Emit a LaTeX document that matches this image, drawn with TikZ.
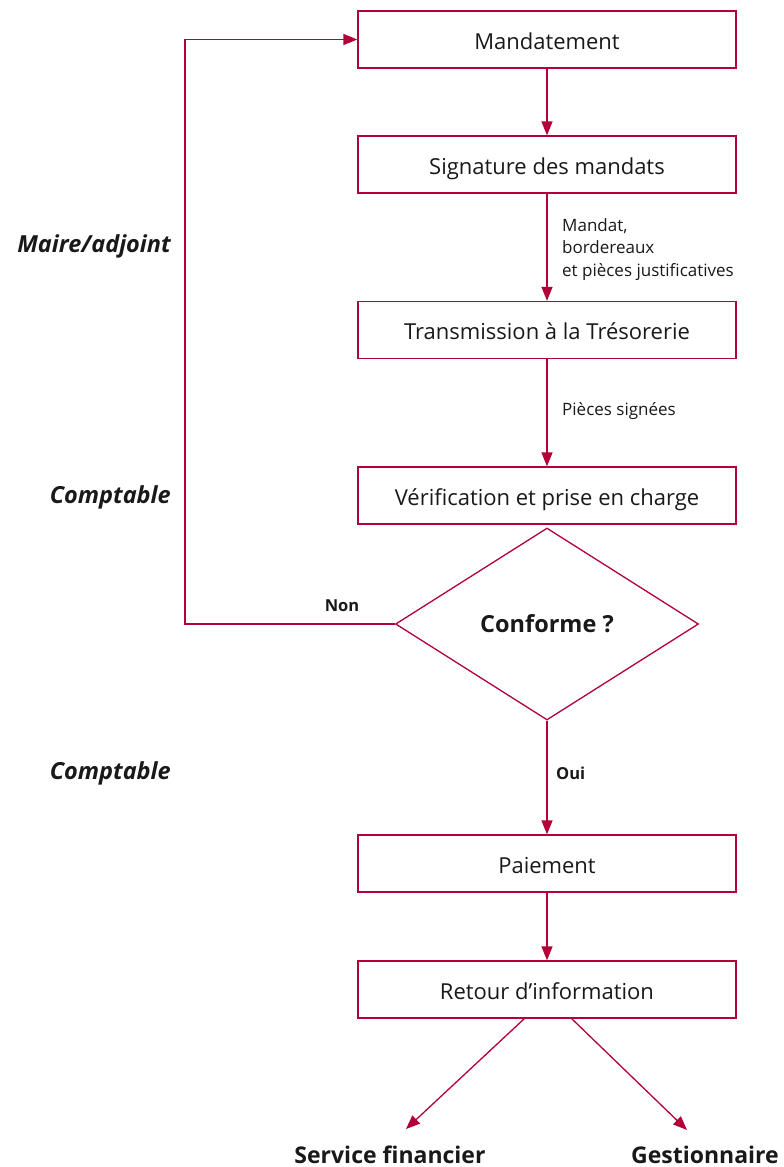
\documentclass[tikz,border=0pt]{standalone}
\usepackage{fontspec}
\setmainfont{Open Sans}
\usetikzlibrary{shapes.geometric,arrows.meta}
\definecolor{crim}{RGB}{178,0,56}
\definecolor{txt}{RGB}{25,25,25}
\begin{document}
\begin{tikzpicture}[x=1pt,y=-1pt,
  box/.style={draw=crim,line width=1.3pt,minimum width=378pt,minimum height=57pt,inner sep=0pt,text height=21pt,text depth=2pt,font=\fontsize{22}{26}\selectfont,text=txt},
  arr/.style={draw=crim,line width=1.3pt,-{Triangle[length=14pt,width=11pt]}},
  small/.style={font=\fontsize{17}{22.5}\selectfont,text=txt,inner sep=0pt},
  side/.style={font=\fontsize{23.5}{26}\selectfont\bfseries\itshape,text=txt,anchor=east,inner sep=0pt},
  bot/.style={font=\fontsize{23}{26}\selectfont\bfseries,text=txt,inner sep=0pt}]
\useasboundingbox (0,0) rectangle (784,1167);
\node[box] (b1) at (547,39.5) {Mandatement};
\node[box] (b2) at (547,164.5) {Signature des mandats};
\node[box] (b3) at (547,330) {Transmission à la Trésorerie};
\node[box] (b4) at (547,495.5) {Vérification et prise en charge};
\node[draw=crim,line width=1.3pt,diamond,minimum width=303pt,minimum height=192pt,inner sep=0pt,font=\fontsize{23.5}{26}\selectfont\bfseries,text=txt] (dia) at (547,624) {Conforme ?};
\node[box] (b5) at (547,863.5) {Paiement};
\node[box] (b6) at (547,989.5) {Retour d’information};
\node[bot] (sf) at (390,1155) {Service financier};
\node[bot] (ge) at (705,1155) {Gestionnaire};
\coordinate (lp) at (185,624);
\coordinate (sfend) at (406,1129);
\coordinate (geend) at (687,1130);
\coordinate (sfst) at (525,1018);
\coordinate (gest) at (571,1018);

\draw[arr] (b1) -- (b2);
\draw[arr] (b2) -- (b3);
\draw[arr] (b3) -- (b4);
\draw[arr] (dia.south) -- (b5);
\draw[arr] (b5) -- (b6);
\draw[arr] (dia.west) -- (lp) |- (b1.west);
\draw[arr] (sfst) -- (sfend);
\draw[arr] (gest) -- (geend);

\node[small,align=left,anchor=north west] (l1) at (562,218) {Mandat,\\bordereaux\\et pièces justificatives};
\node[small,anchor=west] (l2) at (562,411) {Pièces signées};
\node[small,font=\fontsize{16.5}{18}\selectfont\bfseries] (non) at (342,606) {Non};
\node[small,font=\fontsize{16.5}{18}\selectfont\bfseries,anchor=west] (oui) at (556,773) {Oui};
\node[side] (s1) at (171,246) {Maire/adjoint};
\node[side] (s2) at (171,497) {Comptable};
\node[side] (s3) at (171,773) {Comptable};
\end{tikzpicture}
\end{document}
